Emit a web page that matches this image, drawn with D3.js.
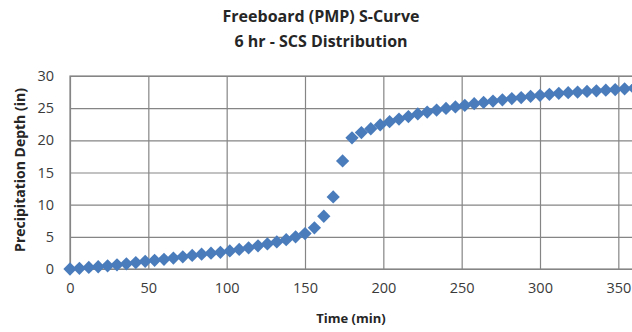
<!DOCTYPE html>
<html>
<head>
<meta charset="utf-8">
<script src="https://cdn.jsdelivr.net/npm/d3@7"></script>
<style>
  html, body { margin: 0; padding: 0; background: #fff; overflow: hidden; }
  svg { display: block; font-family: "Open Sans", "Noto Sans", sans-serif; }
</style>
</head>
<body>
<svg id="chart" width="632" height="332"></svg>
<script>
// Cumulative PMP depth (in) every 6 minutes over a 6-hour SCS storm
const timeMin = d3.range(0, 361, 6);
const depthIn = [
  0.0, 0.1, 0.25, 0.35, 0.5, 0.65, 0.8, 1.0, 1.2, 1.35,
  1.5, 1.7, 1.9, 2.1, 2.3, 2.45, 2.6, 2.8, 3.05, 3.3,
  3.6, 3.9, 4.2, 4.55, 5.0, 5.5, 6.4, 8.2, 11.2, 16.8,
  20.4, 21.2, 21.8, 22.4, 22.9, 23.3, 23.7, 24.1, 24.4, 24.7,
  24.95, 25.2, 25.45, 25.7, 25.9, 26.1, 26.3, 26.5, 26.65, 26.85,
  27.0, 27.15, 27.3, 27.4, 27.5, 27.6, 27.7, 27.8, 27.9, 28.0,
  28.1
];
const xTicks = [0, 50, 100, 150, 200, 250, 300, 350];
const yTicks = [0, 5, 10, 15, 20, 25, 30];
const titleLines = ["Freeboard (PMP) S-Curve", "6 hr - SCS Distribution"];
const xTitle = "Time (min)";
const yTitle = "Precipitation Depth (in)";

const svg = d3.select("#chart");
const plot = { left: 70, top: 76, bottom: 269, right: 634 };

const x = d3.scaleLinear().domain([0, 360]).range([plot.left, plot.right]);
const y = d3.scaleLinear().domain([0, 30]).range([plot.bottom, plot.top]);

const gridColor = "#858585";

// Gridlines
svg.append("g")
  .attr("transform", `translate(0,${plot.bottom})`)
  .call(d3.axisBottom(x).tickValues(xTicks).tickSize(-(plot.bottom - plot.top)).tickFormat(""))
  .call(g => g.select(".domain").remove())
  .call(g => g.selectAll("line").attr("stroke", gridColor).attr("stroke-width", 1.2));

svg.append("g")
  .attr("transform", `translate(${plot.left},0)`)
  .call(d3.axisLeft(y).tickValues(yTicks).tickSize(-(plot.right - plot.left)).tickFormat(""))
  .call(g => g.select(".domain").remove())
  .call(g => g.selectAll("line").attr("stroke", gridColor).attr("stroke-width", 1.2));

// Plot frame
svg.append("rect")
  .attr("x", plot.left).attr("y", plot.top)
  .attr("width", plot.right - plot.left).attr("height", plot.bottom - plot.top)
  .attr("fill", "none").attr("stroke", gridColor).attr("stroke-width", 1.2);

// Tick labels
const yAxis = svg.append("g")
  .attr("transform", `translate(${plot.left},0)`)
  .call(d3.axisLeft(y).tickValues(yTicks).tickSize(0).tickPadding(16));
yAxis.select(".domain").remove();
yAxis.selectAll("text").attr("font-size", 14.5).attr("fill", "#3a3a3a")
  .attr("font-family", "'Open Sans', sans-serif");

const xAxis = svg.append("g")
  .attr("transform", `translate(0,${plot.bottom})`)
  .call(d3.axisBottom(x).tickValues(xTicks).tickSize(0).tickPadding(14));
xAxis.select(".domain").remove();
xAxis.selectAll("text").attr("font-size", 14.5).attr("fill", "#3a3a3a")
  .attr("font-family", "'Open Sans', sans-serif");

// Series markers (diamonds)
const diamond = d3.symbol().type(d3.symbolSquare).size(88);
svg.append("g")
  .selectAll("path")
  .data(timeMin.map((t, i) => ({ t, v: depthIn[i] })))
  .join("path")
  .attr("d", diamond)
  .attr("transform", d => `translate(${x(d.t)},${y(d.v)}) rotate(45)`)
  .attr("fill", "#4a7cbc");

// Titles
const title = svg.append("text")
  .attr("text-anchor", "middle")
  .attr("font-weight", "bold")
  .attr("font-size", 16)
  .attr("fill", "#262626");
titleLines.forEach((line, i) => {
  title.append("tspan").attr("x", 321).attr("y", 22 + i * 25).text(line);
});

svg.append("text")
  .attr("x", 351).attr("y", 323)
  .attr("text-anchor", "middle")
  .attr("font-weight", "bold").attr("font-size", 13)
  .attr("fill", "#262626")
  .text(xTitle);

svg.append("text")
  .attr("transform", "translate(25,170) rotate(-90)")
  .attr("text-anchor", "middle")
  .attr("font-weight", "bold").attr("font-size", 14)
  .attr("fill", "#262626")
  .text(yTitle);
</script>
</body>
</html>
